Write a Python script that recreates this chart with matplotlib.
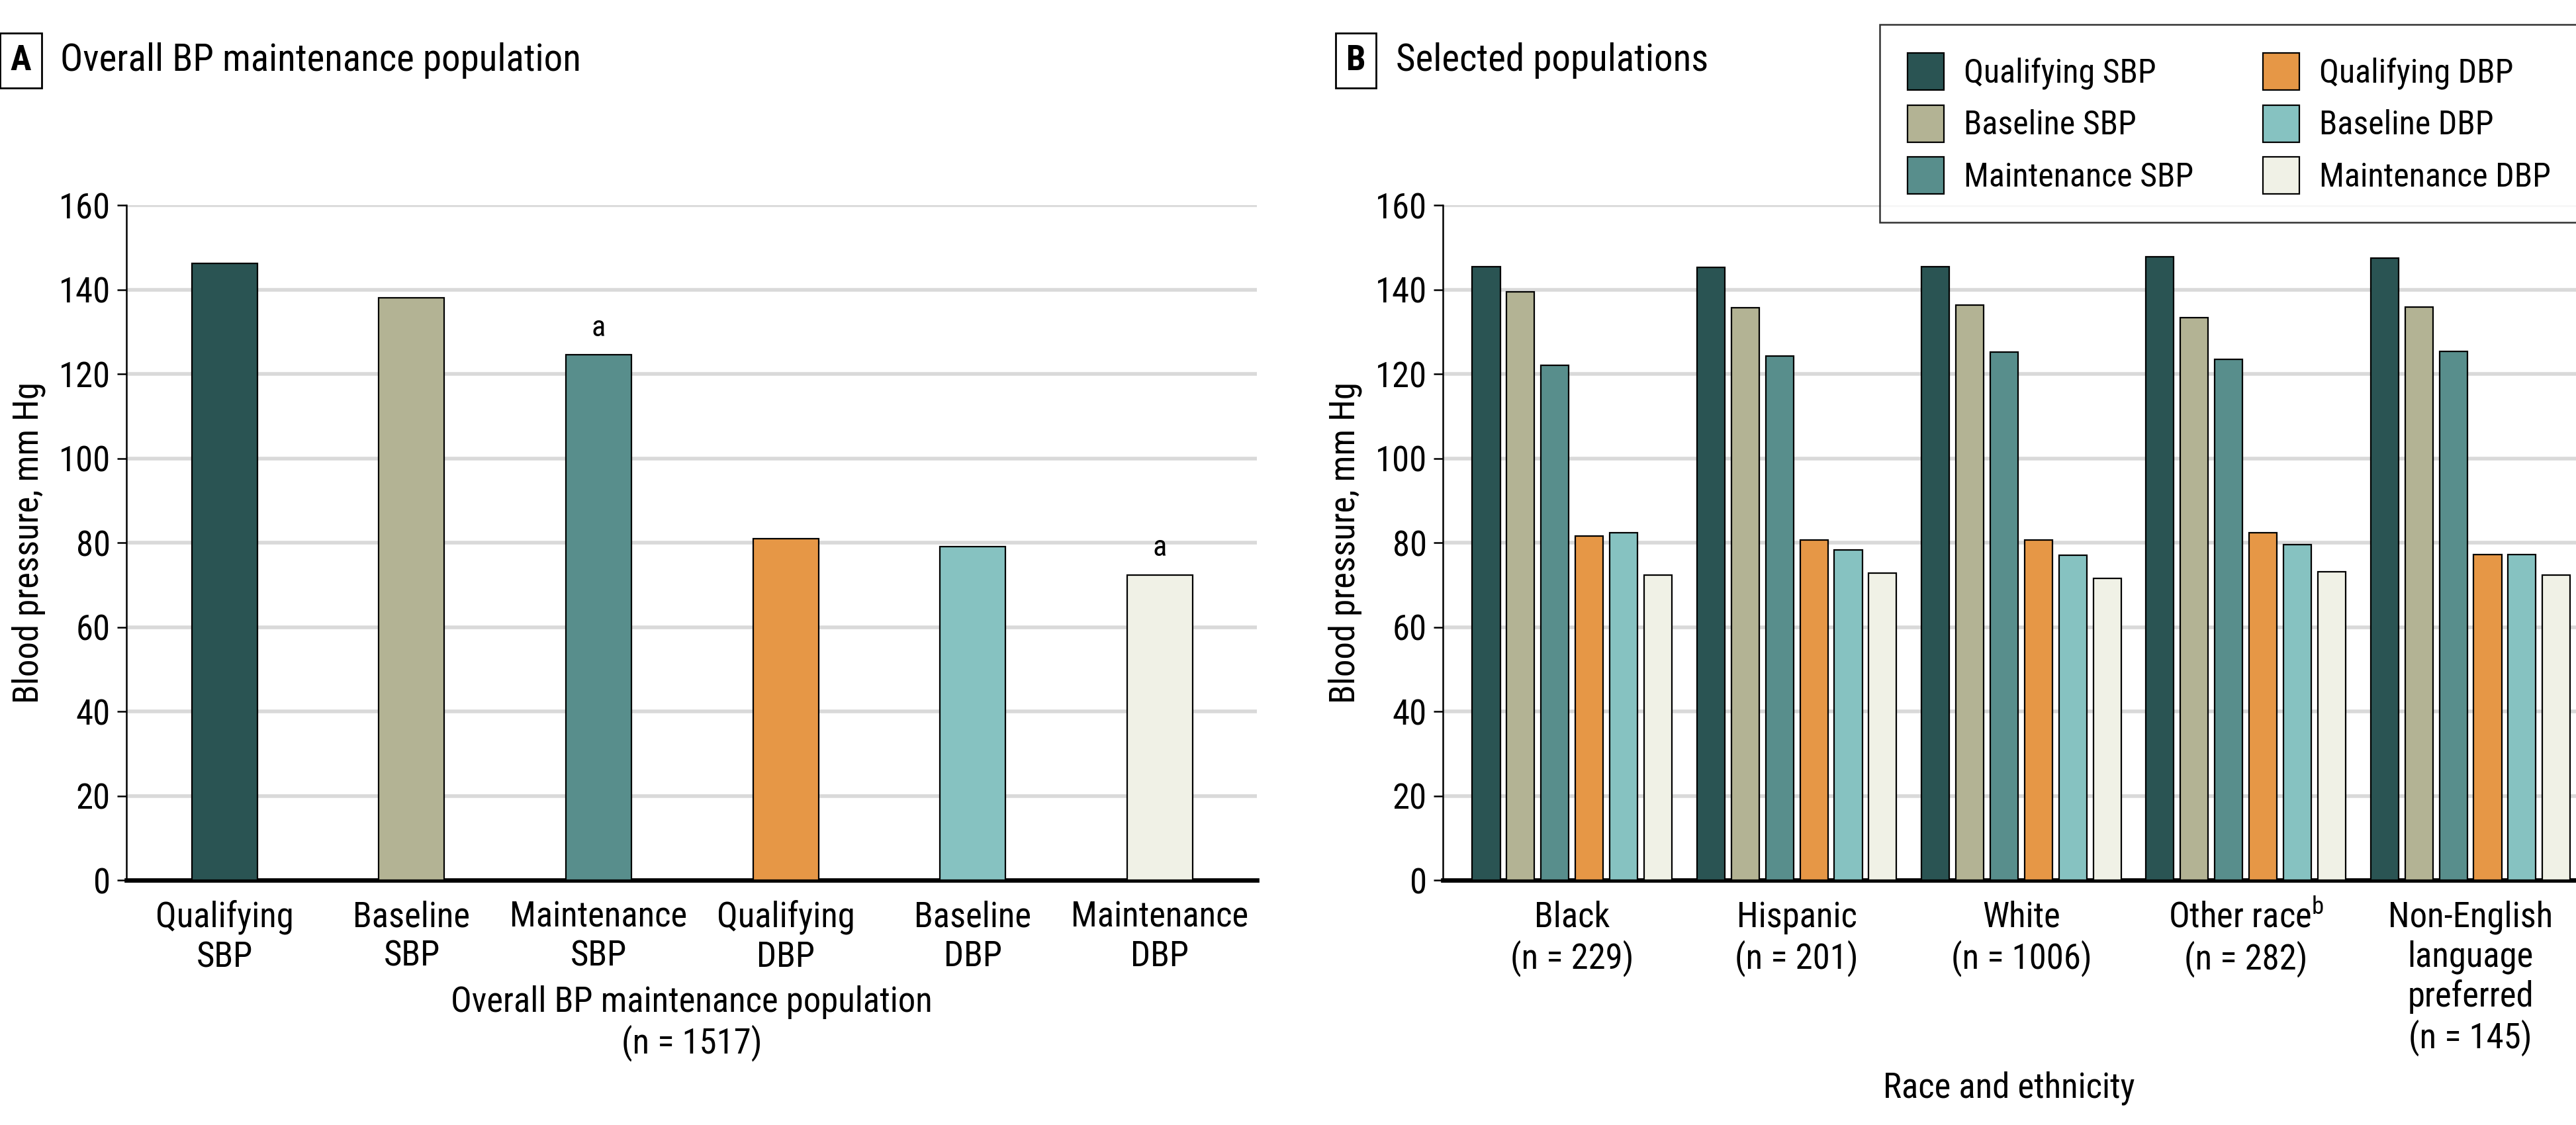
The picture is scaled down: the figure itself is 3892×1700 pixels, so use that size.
import numpy as np
import matplotlib
matplotlib.use("Agg")
import matplotlib.pyplot as plt
from matplotlib.patches import Patch

plt.rcParams["font.family"] = ["Roboto Condensed", "Liberation Sans Narrow",
                               "Roboto", "DejaVu Sans"]

SERIES = ["Qualifying SBP", "Baseline SBP", "Maintenance SBP",
          "Qualifying DBP", "Baseline DBP", "Maintenance DBP"]
COLORS = ["#2a5453", "#b3b394", "#588e8c", "#e69746", "#86c2c1", "#f0f1e6"]

# panel A: overall population
overall_labels = ["Qualifying\nSBP", "Baseline\nSBP", "Maintenance\nSBP",
                  "Qualifying\nDBP", "Baseline\nDBP", "Maintenance\nDBP"]
overall_values = [146.2, 138.1, 124.6, 81.0, 79.1, 72.4]
overall_notes = ["", "", "a", "", "", "a"]

# panel B: selected populations
groups = ["Black\n(n = 229)", "Hispanic\n(n = 201)", "White\n(n = 1006)",
          "Other race$^{\\mathregular{b}}$\n(n = 282)",
          "Non-English\nlanguage\npreferred\n(n = 145)"]
qualifying_sbp = [145.5, 145.2, 145.5, 147.7, 147.4]
baseline_sbp = [139.5, 135.7, 136.3, 133.3, 135.8]
maintenance_sbp = [122.1, 124.3, 125.2, 123.4, 125.4]
qualifying_dbp = [81.6, 80.7, 80.7, 82.3, 77.2]
baseline_dbp = [82.3, 78.3, 77.1, 79.6, 77.2]
maintenance_dbp = [72.3, 72.8, 71.5, 73.1, 72.3]

FS = 19


def style_axes(ax):
    ax.set_ylim(0, 160)
    ax.set_yticks(np.arange(0, 161, 20))
    ax.yaxis.grid(True, color="#d9d9d9", linewidth=2.0, zorder=0)
    ax.set_axisbelow(True)
    for side in ["top", "right"]:
        ax.spines[side].set_visible(False)
    ax.spines["left"].set_linewidth(0.9)
    ax.spines["bottom"].set_linewidth(2.4)
    ax.tick_params(axis="y", labelsize=FS, length=5, width=0.9)
    ax.tick_params(axis="x", labelsize=FS, length=0, pad=11)
    ax.set_ylabel("Blood pressure, mm Hg", fontsize=FS, labelpad=7)


def panel_title(fig, x, letter, text):
    fig.text(x, 0.946, letter, fontsize=FS, fontweight="bold", va="center", ha="left",
             bbox=dict(boxstyle="square,pad=0.3", facecolor="white",
                       edgecolor="black", linewidth=1.0))
    fig.text(x + 0.0195, 0.946, text, fontsize=FS + 1.5, va="center", ha="left")


def main():
    fig = plt.figure(figsize=(19.46, 8.5), dpi=200)

    # panel A
    ax1 = fig.add_axes([0.049, 0.2176, 0.439, 0.60])
    x1 = np.arange(len(overall_values))
    bars = ax1.bar(x1, overall_values, width=0.35, color=COLORS,
                   edgecolor="black", linewidth=0.8, zorder=3)
    for b, note in zip(bars, overall_notes):
        if note:
            ax1.text(b.get_x() + b.get_width() / 2, b.get_height() + 3, note,
                     ha="center", va="bottom", fontsize=FS - 3)
    ax1.set_xlim(-0.526, 5.52)
    ax1.set_xticks(x1)
    ax1.set_xticklabels(overall_labels, linespacing=1.2)
    style_axes(ax1)
    ax1.set_xlabel("Overall BP maintenance population\n(n = 1517)", fontsize=FS,
                   labelpad=6, linespacing=1.2)

    # panel B
    ax2 = fig.add_axes([0.560, 0.2176, 0.44, 0.60])
    xg = np.arange(len(groups))
    data = [qualifying_sbp, baseline_sbp, maintenance_sbp,
            qualifying_dbp, baseline_dbp, maintenance_dbp]
    step = 0.153
    for i, (vals, col) in enumerate(zip(data, COLORS)):
        ax2.bar(xg + (i - 2.5) * step, vals, width=0.124, color=col,
                edgecolor="black", linewidth=0.8, zorder=3)
    ax2.set_xlim(-0.577, 4.47)
    ax2.set_xticks(xg)
    ax2.set_xticklabels(groups, linespacing=1.2, va="top")
    style_axes(ax2)
    ax2.set_xlabel("Race and ethnicity", fontsize=FS, labelpad=8)

    panel_title(fig, 0.004, "A", "Overall BP maintenance population")
    panel_title(fig, 0.5225, "B", "Selected populations")

    handles = [Patch(facecolor=c, edgecolor="black", linewidth=0.8) for c in COLORS]
    leg = fig.legend(handles, SERIES, ncol=2, loc="upper left",
                     bbox_to_anchor=(0.7296, 0.978), borderaxespad=0,
                     fontsize=FS - 1, frameon=True, fancybox=False, edgecolor="black",
                     handlelength=1.1, handleheight=1.35, columnspacing=2.1,
                     labelspacing=0.45, borderpad=0.85, handletextpad=0.6)
    leg.get_frame().set_linewidth(0.9)

    fig.savefig("out.png", dpi=200, facecolor="white")
    plt.close(fig)


if __name__ == "__main__":
    main()
